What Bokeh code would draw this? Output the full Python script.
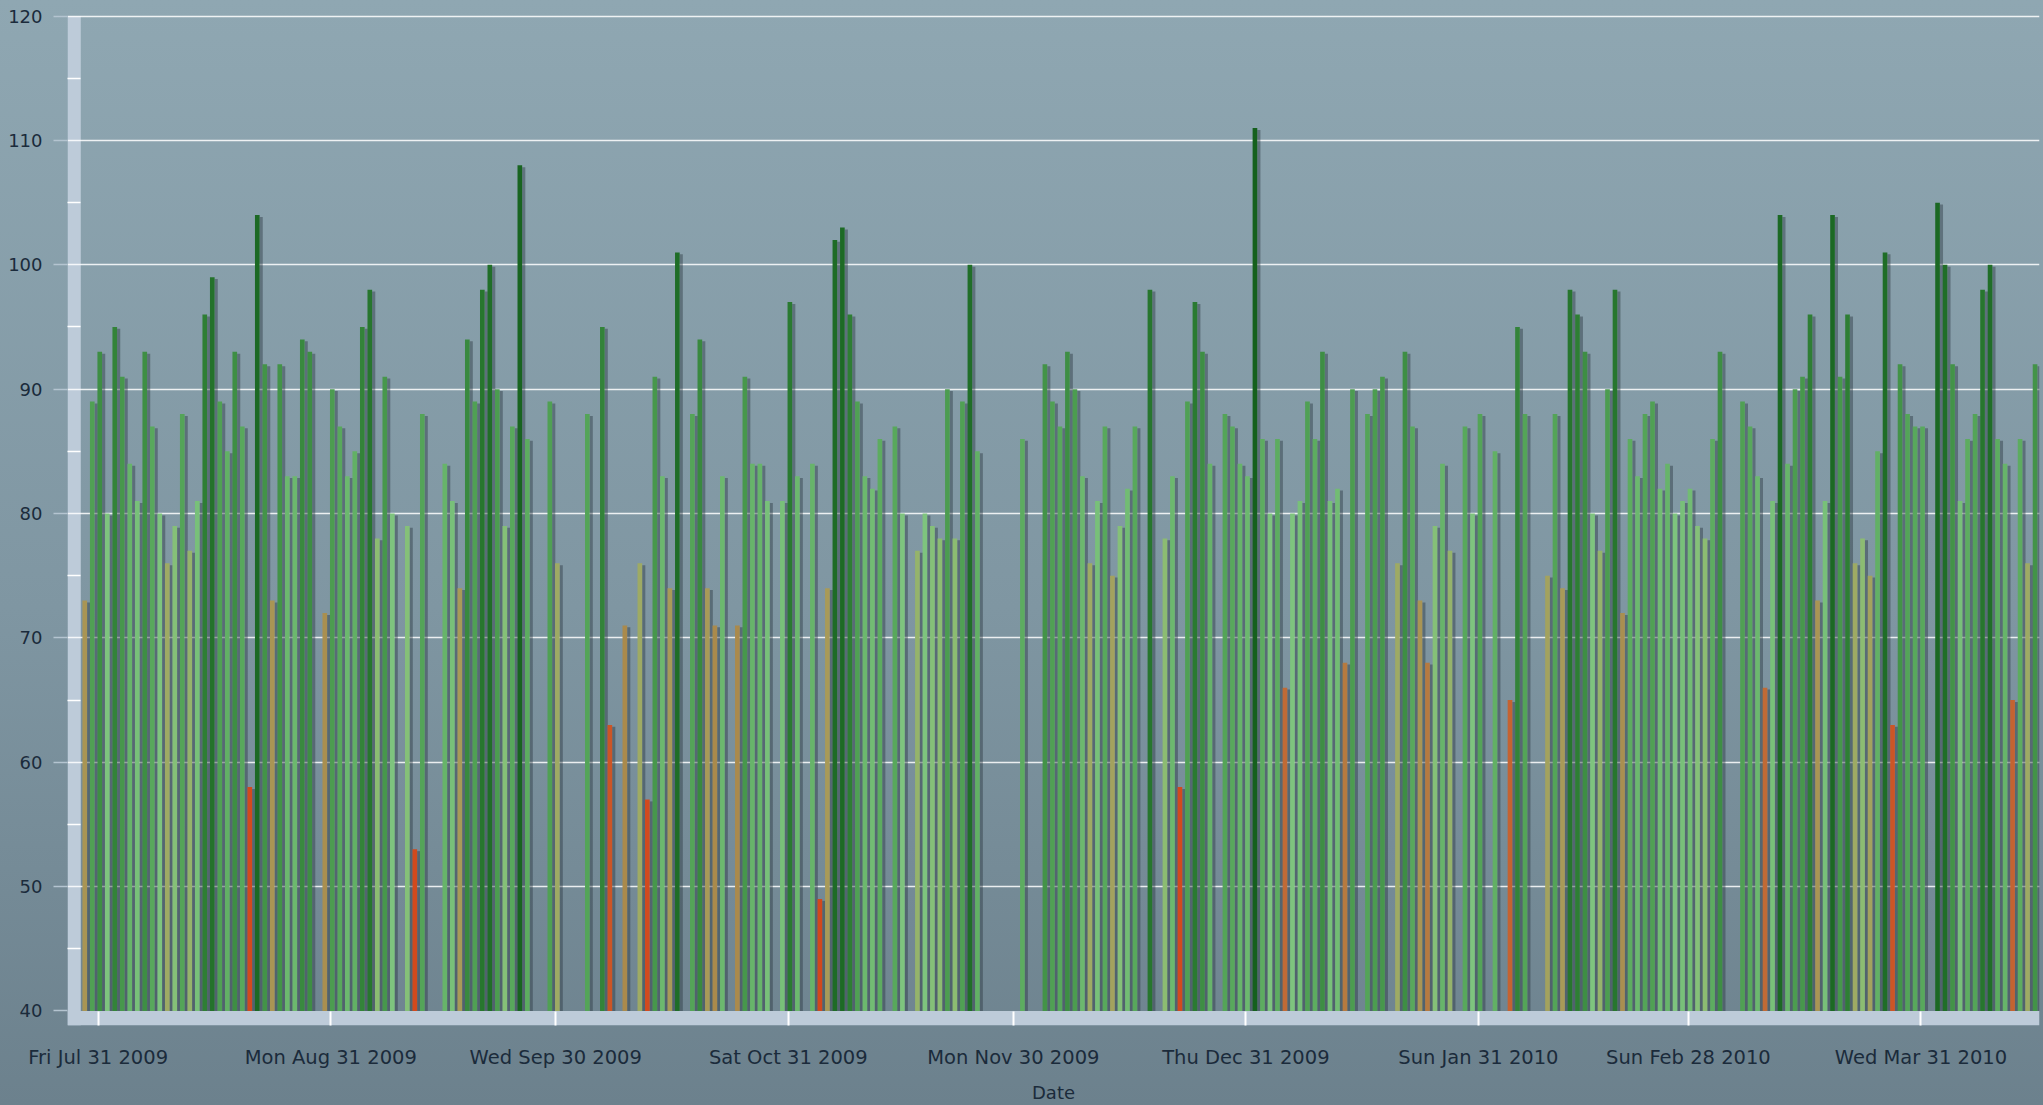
import numpy as np
import pandas as pd
from bokeh.plotting import figure
from bokeh.models import ColumnDataSource, FixedTicker, DatetimeTickFormatter, Range1d
from bokeh.embed import file_html
from bokeh.resources import INLINE

# ---------------- data ----------------
START_DATE = "2009-07-29"          # first day of the daily series
VALUES = [
    73, 89, 93, 80, 95, 91, 84, 81, 93, 87,
    80, 76, 79, 88, 77, 81, 96, 99, 89, 85,
    93, 87, 58, 104, 92, 73, 92, 83, 83, 94,
    93, None, 72, 90, 87, 83, 85, 95, 98, 78,
    91, 80, None, 79, 53, 88, None, None, 84, 81,
    74, 94, 89, 98, 100, 90, 79, 87, 108, 86,
    None, None, 89, 76, None, None, None, 88, None, 95,
    63, None, 71, None, 76, 57, 91, 83, 74, 101,
    None, 88, 94, 74, 71, 83, None, 71, 91, 84,
    84, 81, None, 81, 97, 83, None, 84, 49, 74,
    102, 103, 96, 89, 83, 82, 86, None, 87, 80,
    None, 77, 80, 79, 78, 90, 78, 89, 100, 85,
    None, None, None, None, None, 86, None, None, 92, 89,
    87, 93, 90, 83, 76, 81, 87, 75, 79, 82,
    87, None, 98, None, 78, 83, 58, 89, 97, 93,
    84, None, 88, 87, 84, 83, 111, 86, 80, 86,
    66, 80, 81, 89, 86, 93, 81, 82, 68, 90,
    None, 88, 90, 91, None, 76, 93, 87, 73, 68,
    79, 84, 77, None, 87, 80, 88, None, 85, None,
    65, 95, 88, None, None, 75, 88, 74, 98, 96,
    93, 80, 77, 90, 98, 72, 86, 83, 88, 89,
    82, 84, 80, 81, 82, 79, 78, 86, 93, None,
    None, 89, 87, 83, 66, 81, 104, 84, 90, 91,
    96, 73, 81, 104, 91, 96, 76, 78, 75, 85,
    101, 63, 92, 88, 87, 87, None, 105, 100, 92,
    81, 86, 88, 98, 100, 86, 84, 65, 86, 76,
    92,
]
TICK_DATES = ["2009-07-31", "2009-08-31", "2009-09-30", "2009-10-31", "2009-11-30",
              "2009-12-31", "2010-01-31", "2010-02-28", "2010-03-31"]
Y_TICKS = [40, 50, 60, 70, 80, 90, 100, 110, 120]
Y_MINOR = [45, 55, 65, 75, 85, 95, 105, 115]
X_LABEL = "Date"

# ---------------- colour scale (style) ----------------
STOPS = [
    (49, "#d2481c"), (58, "#d24a1e"), (63, "#cc5526"), (66, "#c06a36"),
    (68, "#b67a40"), (71, "#aa8a4c"), (74, "#a89a58"), (76, "#9eaa64"),
    (78, "#8cbc72"), (80, "#7ec47e"), (83, "#6cb86e"), (87, "#58a85c"),
    (90, "#4c9c50"), (93, "#3e8e44"), (96, "#2e7e34"), (100, "#206e28"),
    (111, "#15601d"),
]
sv = np.array([s[0] for s in STOPS], float)
sc = np.array([[int(s[1][i:i + 2], 16) for i in (1, 3, 5)] for s in STOPS], float)


def colour(v):
    rgb = [int(round(np.interp(v, sv, sc[:, k]))) for k in range(3)]
    return "#%02x%02x%02x" % tuple(rgb)


# ---------------- build source ----------------
all_dates = pd.date_range(START_DATE, periods=len(VALUES), freq="D")
dates = [d for d, v in zip(all_dates, VALUES) if v is not None]
vals = [v for v in VALUES if v is not None]

DAY = pd.Timedelta(days=1)
SHIFT = pd.Timedelta(hours=5)
BAR_W = 0.62 * DAY
SH_W = 0.42 * DAY
SH_OFF = 0.52 * DAY

src = ColumnDataSource(dict(
    x=[d + SHIFT for d in dates],
    xs=[d + SHIFT + SH_OFF for d in dates],
    top=vals,
    stop=[v - 0.15 for v in vals],
    color=[colour(v) for v in vals],
))

# ---------------- figure ----------------
t0 = pd.Timestamp(TICK_DATES[0])
x_start = t0 - 4.093 * DAY
x_end = t0 + 258.8 * DAY
Y0, Y1 = 38.83, 120.29

p = figure(
    width=2043, height=1105, output_backend="svg", toolbar_location=None,
    x_axis_type="datetime",
    x_range=Range1d(x_start, x_end), y_range=Range1d(Y0, Y1),
    min_border_left=67, min_border_right=4, min_border_top=12, min_border_bottom=78,
    background_fill_color=None, border_fill_color=None, outline_line_color=None,
    styles={"position": "fixed", "left": "0px", "top": "0px",
            "background": "linear-gradient(to bottom, #8fa7b2 0%, #7f96a2 55%, #6c818d 100%)"},
)

BAND = "#bdcbd9"
# axis bands
p.quad(left=[x_start], right=[x_start + 1.77 * DAY], bottom=[Y0], top=[120],
       color=BAND, line_color=None, level="image")
p.quad(left=[x_start], right=[x_end], bottom=[Y0], top=[40],
       color=BAND, line_color=None, level="image")

# bar shadows then bars
p.vbar(x="xs", top="stop", bottom=40, width=SH_W, source=src,
       fill_color="#26323c", fill_alpha=0.42, line_color=None)
p.vbar(x="x", top="top", bottom=40, width=BAR_W, source=src,
       fill_color="color", line_color=None)

# grid
p.xgrid.visible = False
p.ygrid.ticker = FixedTicker(ticks=Y_TICKS[1:])
p.ygrid.grid_line_color = "white"
p.ygrid.grid_line_alpha = 0.85
p.ygrid.grid_line_width = 1.5

# y axis
yax = p.yaxis[0]
yax.ticker = FixedTicker(ticks=Y_TICKS, minor_ticks=Y_MINOR)
yax.axis_line_color = None
yax.major_tick_out = 14
yax.major_tick_in = 0
yax.major_tick_line_color = "#b4c4d0"
yax.major_tick_line_width = 1.5
yax.minor_tick_in = 13
yax.minor_tick_out = 0
yax.minor_tick_line_color = "white"
yax.minor_tick_line_width = 1.5
yax.major_label_text_font = "DejaVu Sans"
yax.major_label_text_font_size = "18px"
yax.major_label_text_color = "#1b2b3b"
yax.major_label_standoff = 11

# x axis
xax = p.xaxis[0]
tick_ms = [pd.Timestamp(t).value // 10**6 for t in TICK_DATES]
xax.ticker = FixedTicker(ticks=tick_ms)
fmt = "%a %b %d %Y"
xax.formatter = DatetimeTickFormatter(
    milliseconds=fmt, seconds=fmt, minsec=fmt, minutes=fmt, hourmin=fmt,
    hours=fmt, days=fmt, months=fmt, years=fmt)
xax.axis_line_color = None
xax.major_tick_in = 14
xax.major_tick_out = 0
xax.major_tick_line_color = "white"
xax.major_tick_line_width = 2
xax.minor_tick_line_color = None
xax.major_label_text_font = "DejaVu Sans"
xax.major_label_text_font_size = "19.5px"
xax.major_label_text_color = "#1b2b3b"
xax.major_label_standoff = 20
xax.axis_label = X_LABEL
xax.axis_label_text_font = "DejaVu Sans"
xax.axis_label_text_font_size = "18px"
xax.axis_label_text_font_style = "normal"
xax.axis_label_text_color = "#1b2b3b"
xax.axis_label_standoff = 10

open("out.html", "w").write(file_html(p, INLINE))
